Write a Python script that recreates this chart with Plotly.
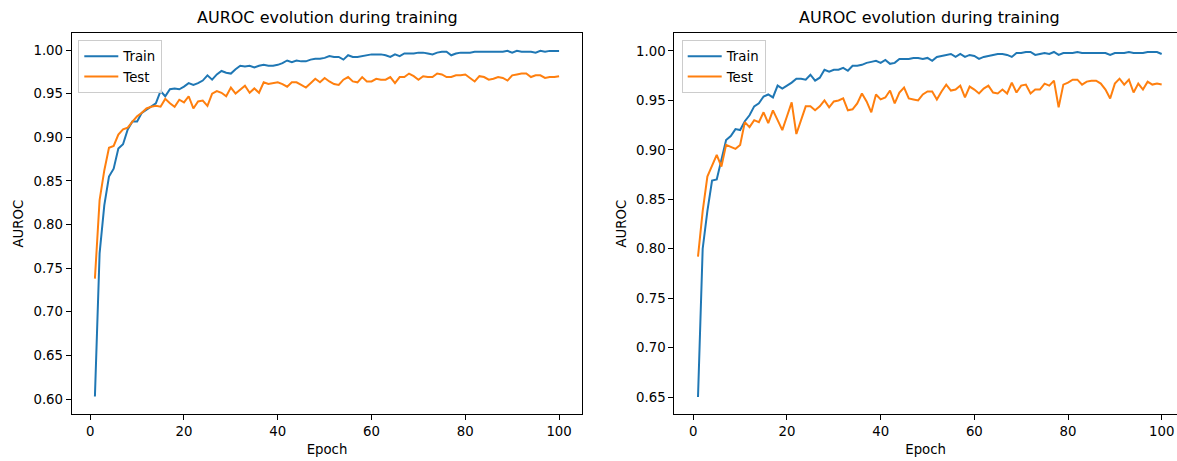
import plotly.graph_objects as go

epochs = list(range(1, 101))

left_train = [0.603, 0.767, 0.822, 0.855, 0.864, 0.887, 0.892, 0.909, 0.918, 0.918,
              0.928, 0.932, 0.935, 0.939, 0.953, 0.947, 0.955, 0.956, 0.955, 0.958,
              0.962, 0.960, 0.962, 0.965, 0.971, 0.966, 0.972, 0.976, 0.974, 0.973,
              0.978, 0.982, 0.981, 0.982, 0.980, 0.982, 0.983, 0.982, 0.982, 0.983,
              0.985, 0.988, 0.986, 0.988, 0.987, 0.987, 0.989, 0.990, 0.990, 0.991,
              0.993, 0.992, 0.992, 0.989, 0.994, 0.992, 0.992, 0.993, 0.994, 0.995,
              0.995, 0.995, 0.994, 0.992, 0.995, 0.993, 0.996, 0.996, 0.996, 0.997,
              0.997, 0.996, 0.995, 0.997, 0.998, 0.998, 0.994, 0.996, 0.997, 0.997,
              0.997, 0.998, 0.998, 0.998, 0.998, 0.998, 0.998, 0.998, 0.999, 0.997,
              0.999, 0.998, 0.998, 0.998, 0.997, 0.999, 0.998, 0.999, 0.999, 0.999]

left_test = [0.738, 0.828, 0.862, 0.888, 0.890, 0.903, 0.909, 0.911, 0.918, 0.924,
             0.928, 0.933, 0.935, 0.936, 0.935, 0.944, 0.939, 0.935, 0.943, 0.940,
             0.947, 0.933, 0.941, 0.942, 0.936, 0.950, 0.953, 0.951, 0.947, 0.957,
             0.950, 0.954, 0.959, 0.951, 0.956, 0.951, 0.963, 0.961, 0.962, 0.963,
             0.961, 0.958, 0.963, 0.963, 0.960, 0.957, 0.962, 0.967, 0.963, 0.968,
             0.964, 0.961, 0.960, 0.966, 0.969, 0.964, 0.963, 0.969, 0.964, 0.964,
             0.967, 0.966, 0.966, 0.969, 0.962, 0.969, 0.969, 0.973, 0.970, 0.966,
             0.970, 0.969, 0.969, 0.973, 0.972, 0.969, 0.969, 0.971, 0.971, 0.972,
             0.968, 0.964, 0.970, 0.969, 0.966, 0.967, 0.969, 0.968, 0.965, 0.971,
             0.972, 0.973, 0.973, 0.969, 0.971, 0.971, 0.968, 0.969, 0.969, 0.970]

right_train = [0.650, 0.800, 0.838, 0.869, 0.870, 0.891, 0.910, 0.914, 0.921, 0.920,
               0.929, 0.935, 0.944, 0.947, 0.954, 0.956, 0.953, 0.965, 0.962, 0.965,
               0.968, 0.972, 0.972, 0.971, 0.976, 0.970, 0.973, 0.981, 0.979, 0.981,
               0.981, 0.983, 0.980, 0.985, 0.985, 0.986, 0.988, 0.989, 0.990, 0.988,
               0.991, 0.987, 0.988, 0.992, 0.992, 0.992, 0.993, 0.993, 0.992, 0.993,
               0.990, 0.994, 0.995, 0.996, 0.997, 0.994, 0.997, 0.994, 0.996, 0.995,
               0.992, 0.994, 0.995, 0.996, 0.997, 0.997, 0.996, 0.994, 0.998, 0.998,
               0.999, 0.999, 0.996, 0.997, 0.998, 0.997, 0.999, 0.996, 0.998, 0.998,
               0.998, 0.999, 0.998, 0.998, 0.998, 0.998, 0.998, 0.998, 0.996, 0.998,
               0.998, 0.998, 0.999, 0.998, 0.998, 0.998, 0.999, 0.999, 0.999, 0.997]

right_test = [0.792, 0.838, 0.873, 0.885, 0.895, 0.883, 0.905, 0.903, 0.901, 0.905,
              0.928, 0.923, 0.930, 0.928, 0.938, 0.927, 0.940, 0.930, 0.920, 0.934,
              0.948, 0.916, 0.929, 0.944, 0.944, 0.940, 0.944, 0.950, 0.943, 0.949,
              0.950, 0.952, 0.940, 0.941, 0.947, 0.957, 0.949, 0.938, 0.956, 0.951,
              0.953, 0.960, 0.947, 0.958, 0.963, 0.952, 0.951, 0.950, 0.956, 0.959,
              0.959, 0.951, 0.959, 0.966, 0.960, 0.961, 0.965, 0.953, 0.964, 0.961,
              0.957, 0.962, 0.965, 0.958, 0.957, 0.961, 0.957, 0.968, 0.958, 0.965,
              0.966, 0.957, 0.961, 0.961, 0.967, 0.965, 0.970, 0.943, 0.966, 0.968,
              0.971, 0.971, 0.966, 0.969, 0.970, 0.970, 0.967, 0.961, 0.952, 0.967,
              0.972, 0.966, 0.971, 0.958, 0.967, 0.961, 0.969, 0.966, 0.967, 0.966]

series_names = ["Train", "Test"]
title_text = "AUROC evolution during training"
x_title = "Epoch"
y_title = "AUROC"

W, H = 1177, 461
BLUE, ORANGE = "#1f77b4", "#ff7f0e"
FONT = "DejaVu Sans"
FS = 13.3

def px_x(p):
    return p / W

def px_y(p):
    return 1 - p / H

fig = go.Figure()
fig.add_trace(go.Scatter(x=epochs, y=left_train, name=series_names[0], mode="lines",
                         line=dict(color=BLUE, width=2), xaxis="x", yaxis="y", legend="legend"))
fig.add_trace(go.Scatter(x=epochs, y=left_test, name=series_names[1], mode="lines",
                         line=dict(color=ORANGE, width=2), xaxis="x", yaxis="y", legend="legend"))
fig.add_trace(go.Scatter(x=epochs, y=right_train, name=series_names[0], mode="lines",
                         line=dict(color=BLUE, width=2), xaxis="x2", yaxis="y2", legend="legend2"))
fig.add_trace(go.Scatter(x=epochs, y=right_test, name=series_names[1], mode="lines",
                         line=dict(color=ORANGE, width=2), xaxis="x2", yaxis="y2", legend="legend2"))

tickfont = dict(family=FONT, size=FS, color="#000000")
axis_common = dict(showgrid=False, zeroline=False, showline=True, linecolor="#000000",
                   linewidth=1, ticks="outside", ticklen=5, tickwidth=1, tickcolor="#000000",
                   tickfont=tickfont)

y_dom = [px_y(414.3), px_y(33)]

legend_common = dict(xanchor="left", yanchor="top", bgcolor="rgba(255,255,255,0.8)",
                     bordercolor="#cccccc", borderwidth=1, itemwidth=34,
                     font=dict(family=FONT, size=FS, color="#000000"), tracegroupgap=0)

fig.update_layout(
    width=W, height=H,
    margin=dict(l=0, r=0, t=0, b=0, autoexpand=False),
    plot_bgcolor="white", paper_bgcolor="white",
    font=dict(family=FONT, size=FS, color="#000000"),
    xaxis=dict(domain=[px_x(71.7), px_x(582.3)], range=[-3.95, 104.95],
               tickvals=[0, 20, 40, 60, 80, 100], mirror=True, anchor="y",
               title=dict(text=x_title, font=dict(family=FONT, size=FS), standoff=6),
               **axis_common),
    yaxis=dict(domain=y_dom, range=[0.5825, 1.0195], anchor="x",
               tickvals=[0.60, 0.65, 0.70, 0.75, 0.80, 0.85, 0.90, 0.95, 1.00],
               tickformat=".2f", mirror=True,
               title=dict(text=y_title, font=dict(family=FONT, size=FS), standoff=6),
               **axis_common),
    xaxis2=dict(domain=[px_x(674.3), 1.0], range=[-4.06, 103.27],
                tickvals=[0, 20, 40, 60, 80, 100], mirror=True, anchor="y2",
                title=dict(text=x_title, font=dict(family=FONT, size=FS), standoff=6),
                **axis_common),
    yaxis2=dict(domain=y_dom, range=[0.6325, 1.0182], anchor="x2",
                tickvals=[0.65, 0.70, 0.75, 0.80, 0.85, 0.90, 0.95, 1.00],
                tickformat=".2f", mirror=False,
                title=dict(text=y_title, font=dict(family=FONT, size=FS), standoff=6),
                **axis_common),
    legend=dict(x=px_x(78.3), y=px_y(40), **legend_common),
    legend2=dict(x=px_x(681.7), y=px_y(40), **legend_common),
    annotations=[
        dict(text=title_text, x=(px_x(71.7) + px_x(582.3)) / 2, y=px_y(18), xref="paper", yref="paper",
             xanchor="center", yanchor="middle", showarrow=False,
             font=dict(family=FONT, size=16, color="#000000")),
        dict(text=title_text, x=px_x(929.5), y=px_y(18), xref="paper", yref="paper",
             xanchor="center", yanchor="middle", showarrow=False,
             font=dict(family=FONT, size=16, color="#000000")),
    ],
)

fig.write_html("out.html", config={"displayModeBar": False},
               post_script="document.body.style.margin='0';document.body.style.padding='0';")
